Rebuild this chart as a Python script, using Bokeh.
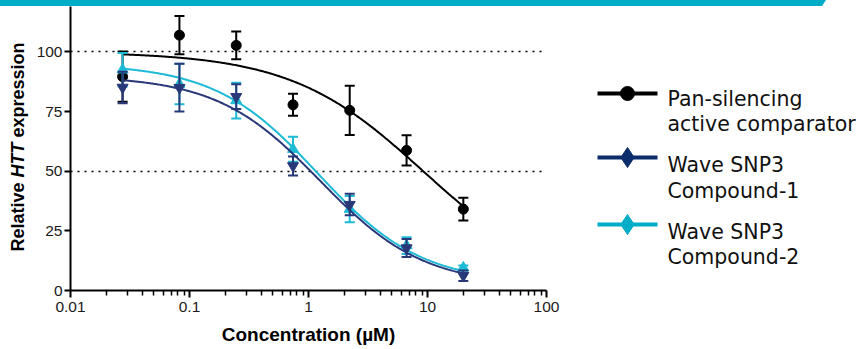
import numpy as np
from bokeh.plotting import figure
from bokeh.layouts import row, column
from bokeh.models import FixedTicker, CustomJSTickFormatter, Range1d, Div
from bokeh.core.properties import value
from bokeh.embed import file_html
from bokeh.resources import INLINE

# ---------------- data ----------------
conc = [0.0274, 0.0823, 0.247, 0.741, 2.22, 6.67, 20.0]

pan_mean = [89.6, 107.0, 102.7, 77.8, 75.5, 58.7, 34.1]
pan_sd = [10.5, 8.0, 5.8, 4.6, 10.3, 6.3, 4.8]

c1_mean = [85.1, 85.0, 81.2, 52.2, 36.0, 17.8, 6.2]
c1_sd = [6.6, 10.0, 5.2, 4.0, 4.5, 3.8, 2.2]

c2_mean = [92.5, 86.5, 79.6, 59.2, 34.1, 18.8, 9.5]
c2_sd = [7.0, 8.5, 7.5, 5.2, 5.5, 3.5, 1.0]

# four-parameter logistic fits: top, bottom, IC50, Hill slope
pan_fit = [100.0, 0.0, 9.2, 0.78]
c1_fit = [90.0, 2.0, 1.25, 1.0]
c2_fit = [95.0, 3.0, 1.2, 1.0]

x_ticks = [0.01, 0.1, 1, 10, 100]
y_ticks = [0, 25, 50, 75, 100]
ref_lines = [50, 100]

y_title = ["Relative", "HTT", "expression"]
x_title = "Concentration (\u00b5M)"
legend_labels = [["Pan-silencing", "active comparator"],
                 ["Wave SNP3", "Compound-1"],
                 ["Wave SNP3", "Compound-2"]]

# ---------------- styles ----------------
W, H = 863, 349
BAN = 6                      # banner height
A_W = 30                     # y-title strip width
B_W = 566 - A_W              # main plot width
C_W = W - 566                # legend strip width
BLACK = "#000000"
NAVY = "#293879"
CYAN = "#1dbad6"
LEG_NAVY = "#0b2d6b"
LEG_CYAN = "#00adc8"
TEAL = "#00acc8"


def four_pl(x, fit):
    top, bottom, ic50, hill = fit
    return bottom + (top - bottom) / (1.0 + (x / ic50) ** hill)


def blank(width, height, xr, yr, bg="white"):
    f = figure(width=width, height=height, x_range=xr, y_range=yr,
               output_backend="svg", toolbar_location=None,
               min_border=0, min_border_left=0, min_border_right=0,
               min_border_top=0, min_border_bottom=0)
    f.frame_align = False
    f.axis.visible = False
    f.grid.visible = False
    f.outline_line_color = None
    f.background_fill_color = bg
    f.border_fill_color = bg
    return f


# ---------------- banner ----------------
ban = Div(text="", width=W, height=BAN, margin=0,
          styles={"background-color": TEAL, "height": "%dpx" % BAN,
                  "overflow": "hidden", "padding": "0",
                  "clip-path": "polygon(0 0, 826px 0, 822px 100%, 0 100%)"})

# ---------------- y title strip (page coordinates) ----------------
pa = blank(A_W, H - BAN, Range1d(0, A_W), Range1d(H, BAN))
pa.text(x=[17, 17, 17], y=[251, 177, 137], text=y_title, angle=np.pi / 2,
        text_align="left", text_baseline="middle",
        text_font=value("Liberation Sans"), text_font_size=value("18px"),
        text_font_style=["bold", "bold italic", "bold"], text_color="black")

# ---------------- main plot ----------------
p = figure(width=B_W, height=H - BAN, x_axis_type="log",
           x_range=Range1d(0.01, 100), y_range=Range1d(0, 119),
           output_backend="svg", toolbar_location=None,
           min_border_left=70 - A_W, min_border_right=566 - 546,
           min_border_top=0, min_border_bottom=H - 290)
p.frame_align = False
p.outline_line_color = None
p.background_fill_color = "white"
p.border_fill_color = "white"

minor = [m * 10.0 ** e for e in range(-2, 2) for m in range(2, 10)]
p.xaxis.ticker = FixedTicker(ticks=x_ticks, minor_ticks=minor)
p.xaxis.formatter = CustomJSTickFormatter(code="return tick.toString();")
p.yaxis.ticker = FixedTicker(ticks=y_ticks)
for ax in (p.xaxis, p.yaxis):
    ax.axis_line_width = 2
    ax.axis_line_color = "black"
    ax.major_tick_line_width = 2
    ax.major_tick_line_color = "black"
    ax.major_tick_in = 0
    ax.major_label_text_font = "Liberation Sans"
    ax.major_label_text_font_size = "15.5px"
    ax.major_label_text_color = "#1a1a1a"
p.xaxis.major_tick_out = 7
p.xaxis.minor_tick_out = 5
p.xaxis.minor_tick_in = 0
p.xaxis.minor_tick_line_width = 1.5
p.xaxis.minor_tick_line_color = "black"
p.xaxis.major_label_standoff = 4
p.xaxis.axis_label = x_title
p.xaxis.axis_label_text_font = "Liberation Sans"
p.xaxis.axis_label_text_font_size = "19px"
p.xaxis.axis_label_text_font_style = "bold"
p.xaxis.axis_label_text_color = "black"
p.xaxis.axis_label_standoff = 9
p.yaxis.major_tick_out = 6
p.yaxis.minor_tick_line_color = None
p.yaxis.major_label_standoff = 2

p.xgrid.visible = False
p.ygrid.ticker = FixedTicker(ticks=ref_lines)
p.ygrid.grid_line_color = "black"
p.ygrid.grid_line_dash = "2 5"
p.ygrid.grid_line_width = 1.5

xs = np.logspace(np.log10(conc[0]), np.log10(conc[-1]), 300)
series = [
    (pan_mean, pan_sd, pan_fit, BLACK, "circle", 10),
    (c2_mean, c2_sd, c2_fit, CYAN, "triangle", 11),
    (c1_mean, c1_sd, c1_fit, NAVY, "inverted_triangle", 11),
]
for mean, sd, fit, col, marker, size in series:
    m = np.array(mean)
    s = np.array(sd)
    p.line(xs, four_pl(xs, fit), line_color=col, line_width=2)
    p.segment(x0=conc, y0=m - s, x1=conc, y1=m + s, line_color=col, line_width=2)
    p.scatter(conc, m + s, marker="dash", size=10, line_color=col, line_width=2)
    p.scatter(conc, m - s, marker="dash", size=10, line_color=col, line_width=2)
    p.scatter(conc, m, marker=marker, size=size, fill_color=col, line_color=col)

# ---------------- legend strip (page coordinates) ----------------
pc = blank(C_W, H - BAN, Range1d(566, W), Range1d(H, BAN))
leg_cols = [BLACK, LEG_NAVY, LEG_CYAN]
leg_marks = ["circle", "diamond", "diamond"]
leg_sizes = [14, 20, 20]
leg_cy = [93, 157, 224]
leg_base = [(98, 123), (164, 190), (231, 256)]
for lab, col, mk, sz, cy, (b1, b2) in zip(legend_labels, leg_cols, leg_marks,
                                          leg_sizes, leg_cy, leg_base):
    pc.segment(x0=[597], y0=[cy], x1=[657], y1=[cy], line_color=col, line_width=4)
    pc.scatter([627], [cy], marker=mk, size=sz, fill_color=col, line_color=col)
    pc.text(x=[667, 667], y=[b1, b2], text=lab, text_align="left",
            text_baseline="alphabetic", text_font=value("DejaVu Sans"),
            text_font_size=value("20.5px"), text_color="#111111")

layout = column(ban, row(pa, p, pc, spacing=0), spacing=0)
open("out.html", "w").write(file_html(layout, INLINE))
